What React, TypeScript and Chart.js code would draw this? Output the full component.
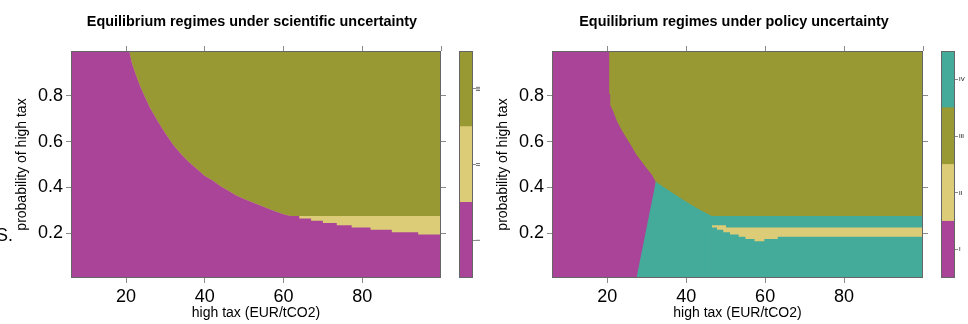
import React, { useEffect, useRef } from 'react';
import { Chart, registerables } from 'chart.js';

Chart.register(...registerables);

const FONT = '"Liberation Sans", Arial, Helvetica, sans-serif';

// ---------- axis data ----------
const taxRange = [6, 100];
const probRange = [0.005, 0.995];
const taxTicks = [20, 40, 60, 80];
const taxTopTicks = [20, 40, 60, 80, 100];
const probTicks = [0.2, 0.4, 0.6, 0.8];

// ---------- scientific uncertainty: regime boundaries ----------
// lower edge of regime III (olive)
const sciOliveEdgeTax = [6, 20.8, 21.5, 22.5, 23.5, 24.5, 26, 28, 30, 32, 34, 36, 38, 40, 42, 44, 46, 48, 50, 52, 54, 56, 58, 60, 61.8, 100];
const sciOliveEdgeProb = [0.995, 0.995, 0.94, 0.89, 0.845, 0.805, 0.75, 0.69, 0.635, 0.585, 0.545, 0.51, 0.48, 0.45, 0.43, 0.405, 0.385, 0.365, 0.35, 0.335, 0.322, 0.308, 0.295, 0.283, 0.275, 0.275];
// upper edge of regime I (purple) where it departs from the olive edge
const sciPurpleTailTax = [64, 64, 67, 67, 70, 70, 73.5, 73.5, 77.3, 77.3, 82.1, 82.1, 87.5, 87.5, 94.2, 94.2, 100];
const sciPurpleTailProb = [0.275, 0.265, 0.265, 0.255, 0.255, 0.245, 0.245, 0.235, 0.235, 0.225, 0.225, 0.215, 0.215, 0.205, 0.205, 0.195, 0.195];

// ---------- policy uncertainty: regime boundaries ----------
const polPurpleEdgeTax = [6, 20.5, 20.5, 20.75, 20.75, 21.5, 22.5, 23.6, 24.9, 26.2, 27.4, 28.7, 30, 31.3, 32.3];
const polPurpleEdgeProb = [0.995, 0.995, 0.81, 0.805, 0.76, 0.732, 0.688, 0.652, 0.615, 0.579, 0.542, 0.513, 0.484, 0.455, 0.425];
const polTealEdgeTax = [27.4, 32.3, 34.2, 36.7, 39.3, 41.8, 44.4, 46.5, 100];
const polTealEdgeProb = [0.005, 0.425, 0.403, 0.375, 0.345, 0.319, 0.294, 0.275, 0.275];
const polTanTopTax = [46.5, 50.1, 80, 100];
const polTanTopProb = [0.245, 0.235, 0.225, 0.225];
const polTanBottomTax = [46.5, 47.8, 49.4, 51.1, 53.3, 55, 57.3, 59.8, 63.2, 80, 100];
const polTanBottomProb = [0.235, 0.225, 0.215, 0.205, 0.195, 0.185, 0.175, 0.165, 0.175, 0.185, 0.185];

// ---------- colour keys ----------
const sciRegimes = ['I', 'II', 'III'];
const polRegimes = ['I', 'II', 'III', 'IV'];

const PURPLE = '#AA4499';
const TAN = '#DDCC77';
const OLIVE = '#999933';
const TEAL = '#44AA99';
const sciRegimeColors = [PURPLE, TAN, OLIVE];
const polRegimeColors = [PURPLE, TAN, OLIVE, TEAL];

const TICK_COLOR = '#8a8a8a';
const FRAME_COLOR = '#666666';

function pts(xs: number[], ys: number[]) {
  return xs.map((x, i) => ({ x, y: ys[i] }));
}

function area(label: string, xs: number[], ys: number[], color: string, stepped: any = false) {
  return {
    label,
    data: pts(xs, ys),
    backgroundColor: color,
    borderColor: 'rgba(0,0,0,0)',
    borderWidth: 0,
    pointRadius: 0,
    pointHoverRadius: 0,
    fill: 'start',
    stepped,
    tension: 0,
  };
}

const framePlugin = {
  id: 'frame',
  afterDatasetsDraw(chart: any) {
    const { ctx, chartArea: a } = chart;
    ctx.save();
    ctx.strokeStyle = FRAME_COLOR;
    ctx.lineWidth = 1;
    ctx.strokeRect(a.left + 0.5, a.top + 0.5, a.right - a.left - 1, a.bottom - a.top - 1);
    ctx.restore();
  },
};

const tickGrid = {
  drawOnChartArea: false,
  drawTicks: true,
  tickLength: 5,
  color: TICK_COLOR,
  lineWidth: 1,
};

function panelOptions() {
  return {
    responsive: false,
    maintainAspectRatio: false,
    animation: false,
    devicePixelRatio: 1,
    layout: { padding: 0 },
    plugins: { legend: { display: false }, tooltip: { enabled: false }, title: { display: false } },
    events: [],
    scales: {
      x: {
        type: 'linear',
        position: 'bottom',
        min: taxRange[0],
        max: taxRange[1],
        afterBuildTicks: (s: any) => { s.ticks = taxTicks.map((v) => ({ value: v })); },
        ticks: { font: { family: FONT, size: 18 }, color: '#000', padding: 3, maxRotation: 0, autoSkip: false },
        grid: tickGrid,
        border: { display: false },
        title: { display: true, text: 'high tax (EUR/tCO2)', font: { family: FONT, size: 14 }, color: '#000', padding: { top: 0, bottom: 2 } },
        afterFit: (s: any) => { s.height = 46; },
      },
      x2: {
        type: 'linear',
        position: 'top',
        min: taxRange[0],
        max: taxRange[1],
        afterBuildTicks: (s: any) => { s.ticks = taxTopTicks.map((v) => ({ value: v })); },
        ticks: { display: false },
        grid: tickGrid,
        border: { display: false },
        afterFit: (s: any) => { s.height = 51; },
      },
      y: {
        type: 'linear',
        position: 'left',
        min: probRange[0],
        max: probRange[1],
        afterBuildTicks: (s: any) => { s.ticks = probTicks.map((v) => ({ value: v })); },
        ticks: { font: { family: FONT, size: 18 }, color: '#000', padding: 3 },
        grid: tickGrid,
        border: { display: false },
        title: { display: true, text: 'probability of high tax', font: { family: FONT, size: 14 }, color: '#000', padding: { top: 14, bottom: 0 } },
        afterFit: (s: any) => { s.width = 71; },
      },
      y2: {
        type: 'linear',
        position: 'right',
        min: probRange[0],
        max: probRange[1],
        afterBuildTicks: (s: any) => { s.ticks = probTicks.map((v) => ({ value: v })); },
        ticks: { display: false },
        grid: tickGrid,
        border: { display: false },
        afterFit: (s: any) => { s.width = 15; },
      },
    },
  };
}

function colorbarConfig(regimes: string[], colors: string[], axisWidth: number, rotate: boolean) {
  return {
    type: 'bar',
    data: {
      labels: [''],
      datasets: regimes.map((r, i) => ({
        label: r,
        data: [1],
        backgroundColor: colors[i],
        borderWidth: 0,
        barPercentage: 1,
        categoryPercentage: 1,
      })),
    },
    options: {
      responsive: false,
      maintainAspectRatio: false,
      animation: false,
      devicePixelRatio: 1,
      events: [],
      layout: { padding: { top: 51, bottom: 46, left: 0, right: 0 } },
      plugins: { legend: { display: false }, tooltip: { enabled: false } },
      scales: {
        x: { display: false, stacked: true },
        y: {
          stacked: true,
          position: 'right',
          min: 0,
          max: regimes.length,
          afterBuildTicks: (s: any) => { s.ticks = regimes.map((_r, i) => ({ value: i + 0.5 })); },
          ticks: {
            callback: (_v: any, i: number) => regimes[i],
            font: { family: FONT, size: 6 },
            color: '#000',
            padding: rotate ? 0 : 1,
            crossAlign: rotate ? 'center' : 'near',
            minRotation: rotate ? 90 : 0,
            maxRotation: rotate ? 90 : 0,
          },
          grid: { drawOnChartArea: false, drawTicks: true, tickLength: 3, color: TICK_COLOR },
          border: { display: false },
          afterFit: (s: any) => { s.width = axisWidth; },
        },
      },
    },
    plugins: [framePlugin],
  };
}

export default function App() {
  const sciRef = useRef<HTMLCanvasElement>(null);
  const polRef = useRef<HTMLCanvasElement>(null);
  const sciKeyRef = useRef<HTMLCanvasElement>(null);
  const polKeyRef = useRef<HTMLCanvasElement>(null);

  useEffect(() => {
    const charts: Chart[] = [];

    const sciPurpleTax = sciOliveEdgeTax.slice(0, -1).concat(sciPurpleTailTax);
    const sciPurpleProb = sciOliveEdgeProb.slice(0, -1).concat(sciPurpleTailProb);

    charts.push(new Chart(sciRef.current as HTMLCanvasElement, {
      type: 'line',
      data: {
        datasets: [
          area('I', sciPurpleTax, sciPurpleProb, PURPLE),
          area('II', sciOliveEdgeTax, sciOliveEdgeProb, TAN),
          area('III', [taxRange[0], taxRange[1]], [probRange[1], probRange[1]], OLIVE),
        ],
      },
      options: panelOptions() as any,
      plugins: [framePlugin],
    } as any));

    charts.push(new Chart(polRef.current as HTMLCanvasElement, {
      type: 'line',
      data: {
        datasets: [
          area('IV', polTanBottomTax, polTanBottomProb, TEAL, 'after'),
          area('II', polTanTopTax, polTanTopProb, TAN, 'after'),
          area('IV', polTealEdgeTax, polTealEdgeProb, TEAL),
          area('I', polPurpleEdgeTax, polPurpleEdgeProb, PURPLE),
          area('III', [taxRange[0], taxRange[1]], [probRange[1], probRange[1]], OLIVE),
        ],
      },
      options: panelOptions() as any,
      plugins: [framePlugin],
    } as any));

    charts.push(new Chart(sciKeyRef.current as HTMLCanvasElement, colorbarConfig(sciRegimes, sciRegimeColors, 11, true) as any));
    charts.push(new Chart(polKeyRef.current as HTMLCanvasElement, colorbarConfig(polRegimes, polRegimeColors, 13, false) as any));

    return () => { charts.forEach((c) => c.destroy()); };
  }, []);

  const titleStyle = (cx: number): React.CSSProperties => ({
    position: 'absolute',
    left: cx - 250,
    top: 13.5,
    width: 500,
    textAlign: 'center',
    fontFamily: FONT,
    fontWeight: 'bold',
    fontSize: 14.4,
    lineHeight: '14.4px',
    color: '#000',
    whiteSpace: 'nowrap',
  });

  return (
    <div style={{ position: 'absolute', left: 0, top: 0, width: 968, height: 324, overflow: 'hidden', background: '#fff' }}>
      <canvas ref={sciRef} width={456} height={324} style={{ position: 'absolute', left: 0, top: 0 }} />
      <canvas ref={sciKeyRef} width={25} height={324} style={{ position: 'absolute', left: 459, top: 0 }} />
      <canvas ref={polRef} width={457} height={324} style={{ position: 'absolute', left: 481, top: 0 }} />
      <canvas ref={polKeyRef} width={27} height={324} style={{ position: 'absolute', left: 941, top: 0 }} />
      <div style={titleStyle(252)}>Equilibrium regimes under scientific uncertainty</div>
      <div style={titleStyle(734)}>Equilibrium regimes under policy uncertainty</div>
      <div style={{ position: 'absolute', left: -4, top: 226, fontFamily: FONT, fontSize: 18, lineHeight: '18px', color: '#000', whiteSpace: 'nowrap' }}>S.</div>
    </div>
  );
}
